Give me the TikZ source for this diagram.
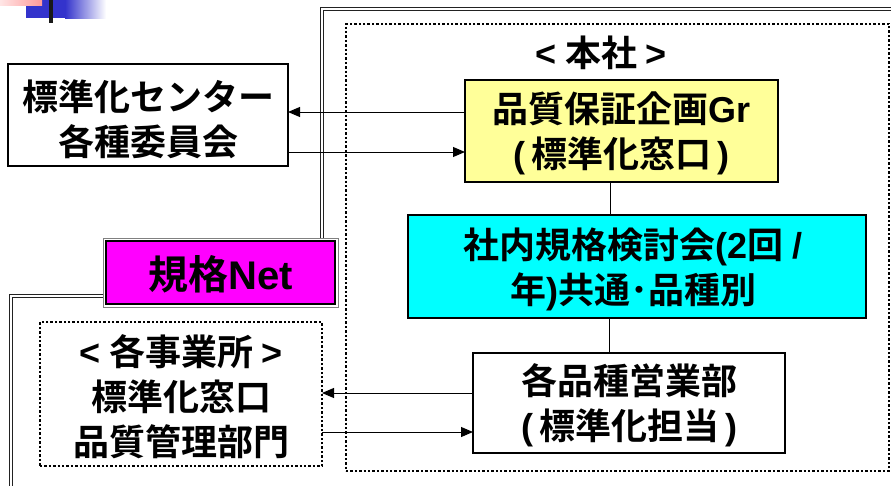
\documentclass[tikz,border=0pt]{standalone}
\usepackage{fontspec}
\setmainfont{Noto Sans CJK JP}[BoldFont={Noto Sans CJK JP Bold}]
\newfontfamily\latf{Liberation Sans}
\newcommand{\lt}[1]{{\latf\bfseries #1}}
\newcommand{\lp}{\lt{(}\hspace{6pt}}
\newcommand{\rp}{\hspace{6pt}\lt{)}}
\usetikzlibrary{arrows.meta}
\definecolor{hqyellow}{HTML}{FFFF99}
\definecolor{netmag}{HTML}{FF00FF}
\definecolor{cyanbox}{HTML}{00FFFF}
\definecolor{decoblue}{HTML}{3333CC}
\definecolor{decopink}{HTML}{FF9999}
\definecolor{framegray}{HTML}{222222}
\begin{document}
\begin{tikzpicture}[x=1pt,y=-1pt,
  every node/.style={font=\bfseries\fontsize{36}{45}\selectfont, align=center, inner sep=0pt, outer sep=0pt},
  solidbox/.style={draw=black, line width=1.6pt},
  dotbox/.style={draw=black, line width=2.4pt, dash pattern=on 2.4pt off 2pt},
  frameline/.style={draw=framegray, line width=1pt},
  arr/.style={line width=1pt, -{Triangle[length=12pt,width=10pt]}},
  link/.style={line width=1pt}]
\useasboundingbox (0,0) rectangle (891,485);
\fill[white] (0,0) rectangle (891,485);
% top-left decoration
\fill[decoblue] (26,0) rectangle (66,18);
\shade[left color=decoblue, right color=white] (65,0) rectangle (106,18);
\shade[left color=decopink!25, right color=decopink] (0,0) rectangle (42,5);
\fill[black!90] (49,0) rectangle (53,23);
% containers
\node[dotbox, minimum width=543pt, minimum height=447pt] (honsha) at (617.5,247.5) {};
\node (honshalabel) at (601,53) {\lt{<} 本社 \lt{>}};
\node[dotbox, minimum width=282pt, minimum height=144pt] (site) at (181,394) {};
\node (sitetext) at (181,397) {\lt{<} 各事業所 \lt{>}\\標準化窓口\\品質管理部門};
% boxes
\node[solidbox, fill=white, minimum width=280pt, minimum height=102pt] (std) at (148,115) {};
\node (stdtext) at (148,119) {標準化センター\\各種委員会};
\node[solidbox, fill=hqyellow, minimum width=313pt, minimum height=102pt] (hq) at (621.5,131) {};
\node (hqtext) at (621.5,133) {品質保証企画\lt{Gr}\\\lp 標準化窓口\rp};
\node[solidbox, fill=cyanbox, minimum width=458pt, minimum height=103pt] (cyan) at (637,266.5) {};
\node (cyantext) at (633,269) {社内規格検討会\lt{(2}回 \lt{/}\\年\lt{)}共通･品種別};
\node[solidbox, fill=white, minimum width=312pt, minimum height=100pt] (dept) at (629,403) {};
\node (depttext) at (629,405) {各品種営業部\\\lp 標準化担当\rp};
\node[solidbox, fill=netmag, minimum width=229pt, minimum height=63pt] (net) at (220.5,272.5) {};
\node[font=\bfseries\fontsize{40}{48}\selectfont] (nettext) at (220.5,274) {規格\lt{Net}};
\draw[gray, line width=0.8pt] ([shift={(-3pt,3pt)}]net.north west) rectangle ([shift={(3pt,-3pt)}]net.south east);
% double frame lines
\coordinate (frtopA) at (320,7);
\coordinate (frtopB) at (323,10);
\coordinate (frrightA) at (900,7);
\coordinate (frrightB) at (900,10);
\coordinate (frleftA) at (9,294);
\coordinate (frleftB) at (12,297);
\coordinate (frbottomA) at (9,495);
\coordinate (frbottomB) at (12,495);
\draw[frameline] ([xshift=99.5pt,yshift=3pt]net.north) -- (frtopA) -- (frrightA);
\draw[frameline] ([xshift=102.5pt,yshift=3pt]net.north) -- (frtopB) -- (frrightB);
\draw[frameline] ([xshift=-3pt,yshift=-21.5pt]net.west) -- (frleftA) -- (frbottomA);
\draw[frameline] ([xshift=-3pt,yshift=-24.5pt]net.west) -- (frleftB) -- (frbottomB);
% connectors
\draw[arr] ([yshift=19pt]hq.west) -- ([yshift=19pt]hq.west -| std.east);
\draw[arr] ([yshift=-37pt]std.east) -- ([yshift=-37pt]std.east -| hq.west);
\draw[link] ([xshift=-11pt]hq.south) -- ([xshift=-11pt]hq.south |- cyan.north);
\draw[link] ([xshift=-20pt]dept.north) -- ([xshift=-20pt]dept.north |- cyan.south);
\draw[arr] ([yshift=10pt]dept.west) -- ([yshift=10pt]dept.west -| site.east);
\draw[arr] ([yshift=-29pt]dept.west -| site.east) -- ([yshift=-29pt]dept.west);
\end{tikzpicture}
\end{document}
